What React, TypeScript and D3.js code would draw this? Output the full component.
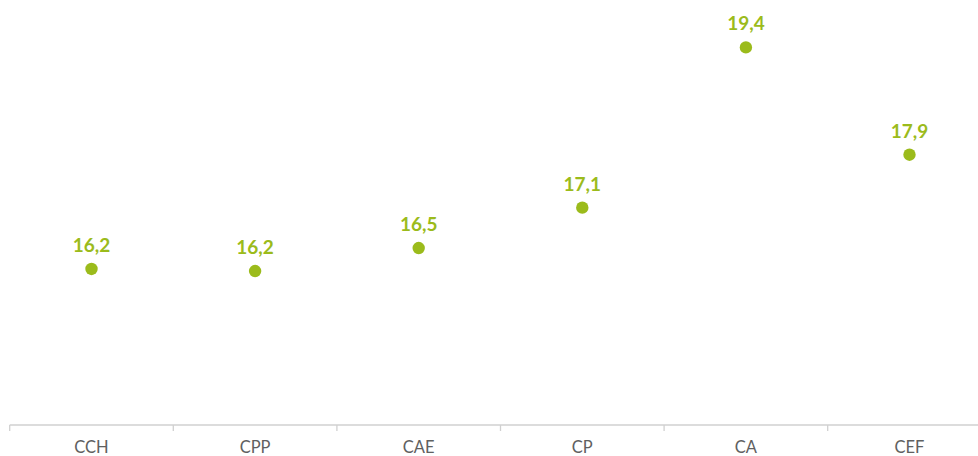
import React from "react";
import * as d3 from "d3";

const categories = ["CCH", "CPP", "CAE", "CP", "CA", "CEF"];
const values = [16.24, 16.21, 16.54, 17.12, 19.42, 17.88];
const labels = ["16,2", "16,2", "16,5", "17,1", "19,4", "17,9"];
const yDomain = [14, 20];

const W = 978;
const H = 456;

export default function App() {
  const x = d3.scaleBand<string>().domain(categories).range([9.7, 991.3]).padding(0);
  const y = d3.scaleLinear().domain(yDomain).range([425, 7]);
  const green = "#9BBB1B";
  const bw = x.bandwidth();
  const tickXs = categories.map((c) => x(c) as number).concat([(x(categories[categories.length - 1]) as number) + bw]);

  return (
    <svg
      width={W}
      height={H}
      style={{ position: "absolute", left: 0, top: 0, background: "#fff" }}
    >
      <line x1={9.7} x2={W} y1={425} y2={425} stroke="#D0D0D0" strokeWidth={1.3} />
      {tickXs.map((tx, i) => (
        <line key={"t" + i} x1={tx} x2={tx} y1={425} y2={431} stroke="#D0D0D0" strokeWidth={1.3} />
      ))}
      {categories.map((c) => (
        <text
          key={"l" + c}
          x={(x(c) as number) + bw / 2}
          y={453}
          textAnchor="middle"
          fontFamily="Lato, sans-serif"
          fontSize={16.5}
          fill="#606060"
        >
          {c}
        </text>
      ))}
      {categories.map((c, i) => {
        const cx = (x(c) as number) + bw / 2;
        const cy = y(values[i]);
        return (
          <g key={"p" + c}>
            <circle cx={cx} cy={cy} r={6.2} fill={green} />
            <text
              x={cx}
              y={cy - 17}
              textAnchor="middle"
              fontFamily="Lato, sans-serif"
              fontWeight="bold"
              fontSize={19}
              fill={green}
            >
              {labels[i]}
            </text>
          </g>
        );
      })}
    </svg>
  );
}
